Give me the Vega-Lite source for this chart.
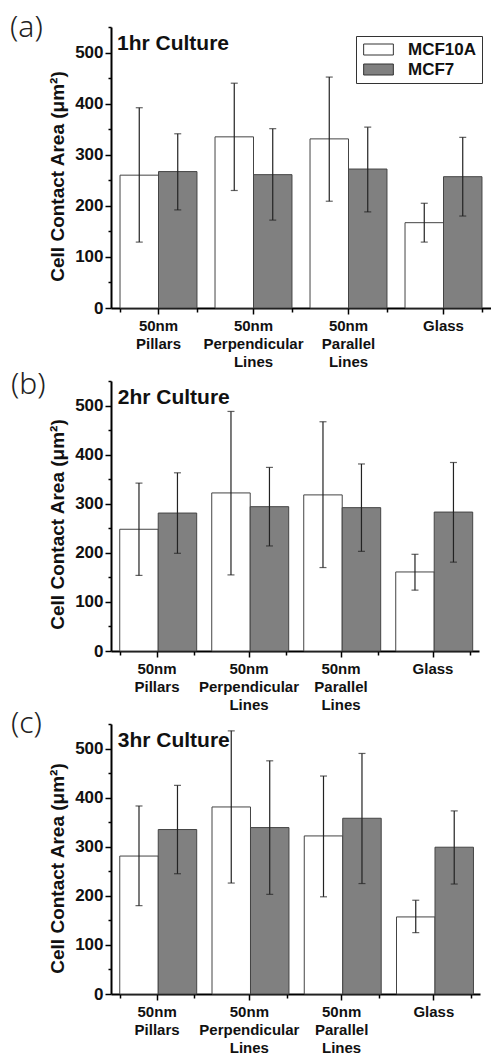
{
  "$schema": "https://vega.github.io/schema/vega-lite/v6.json",
  "background": "white",
  "padding": {"left": 10, "top": 13, "right": 0, "bottom": 0},
  "spacing": 73,
  "bounds": "flush",
  "config": {
    "font": "Liberation Sans",
    "view": {"stroke": null},
    "axis": {"zindex": 1, "grid": false, "domainColor": "#000", "tickColor": "#000", "labelColor": "#111", "titleColor": "#111"}
  },
  "resolve": {"scale": {"color": "independent"}, "legend": {"color": "independent"}},
  "datasets": {
    "a": [
      {"cat": "50nm Pillars", "type": "MCF10A", "mean": 260, "lo": 129, "hi": 392},
      {"cat": "50nm Pillars", "type": "MCF7", "mean": 267, "lo": 192, "hi": 341},
      {"cat": "50nm Perpendicular Lines", "type": "MCF10A", "mean": 335, "lo": 230, "hi": 440},
      {"cat": "50nm Perpendicular Lines", "type": "MCF7", "mean": 261, "lo": 172, "hi": 351},
      {"cat": "50nm Parallel Lines", "type": "MCF10A", "mean": 331, "lo": 209, "hi": 452},
      {"cat": "50nm Parallel Lines", "type": "MCF7", "mean": 272, "lo": 188, "hi": 354},
      {"cat": "Glass", "type": "MCF10A", "mean": 167, "lo": 129, "hi": 205},
      {"cat": "Glass", "type": "MCF7", "mean": 257, "lo": 180, "hi": 334}
    ],
    "b": [
      {"cat": "50nm Pillars", "type": "MCF10A", "mean": 248, "lo": 154, "hi": 342},
      {"cat": "50nm Pillars", "type": "MCF7", "mean": 281, "lo": 199, "hi": 363},
      {"cat": "50nm Perpendicular Lines", "type": "MCF10A", "mean": 322, "lo": 155, "hi": 488},
      {"cat": "50nm Perpendicular Lines", "type": "MCF7", "mean": 294, "lo": 214, "hi": 374},
      {"cat": "50nm Parallel Lines", "type": "MCF10A", "mean": 318, "lo": 170, "hi": 467},
      {"cat": "50nm Parallel Lines", "type": "MCF7", "mean": 292, "lo": 203, "hi": 381},
      {"cat": "Glass", "type": "MCF10A", "mean": 161, "lo": 124, "hi": 197},
      {"cat": "Glass", "type": "MCF7", "mean": 283, "lo": 181, "hi": 384}
    ],
    "c": [
      {"cat": "50nm Pillars", "type": "MCF10A", "mean": 281, "lo": 180, "hi": 383},
      {"cat": "50nm Pillars", "type": "MCF7", "mean": 335, "lo": 245, "hi": 425},
      {"cat": "50nm Perpendicular Lines", "type": "MCF10A", "mean": 381, "lo": 226, "hi": 536},
      {"cat": "50nm Perpendicular Lines", "type": "MCF7", "mean": 339, "lo": 203, "hi": 475},
      {"cat": "50nm Parallel Lines", "type": "MCF10A", "mean": 322, "lo": 198, "hi": 444},
      {"cat": "50nm Parallel Lines", "type": "MCF7", "mean": 358, "lo": 225, "hi": 490},
      {"cat": "Glass", "type": "MCF10A", "mean": 157, "lo": 125, "hi": 191},
      {"cat": "Glass", "type": "MCF7", "mean": 299, "lo": 224, "hi": 373}
    ],
    "ta": [{"cat": "50nm Pillars", "y": 550, "label": "1hr Culture"}],
    "tb": [{"cat": "50nm Pillars", "y": 550, "label": "2hr Culture"}],
    "tc": [{"cat": "50nm Pillars", "y": 550, "label": "3hr Culture"}]
  },
  "vconcat": [
    {
      "width": 380, "height": 281,
      "title": {"text": "(a)", "anchor": "start", "frame": "group", "orient": "top", "dx": -101, "offset": -17, "baseline": "top", "font": "Noto Sans", "fontSize": 30, "fontWeight": 300, "color": "#222"},
      "resolve": {"axis": {"x": "independent", "y": "independent"}},
      "layer": [
        {
          "data": {"name": "a"},
          "mark": {"type": "bar", "stroke": "#444", "strokeWidth": 1},
          "encoding": {
            "x": {"field": "cat", "type": "nominal", "scale": {"domain": ["50nm Pillars", "50nm Perpendicular Lines", "50nm Parallel Lines", "Glass"], "paddingInner": 0.19, "paddingOuter": 0.095},
              "axis": {"orient": "bottom", "title": null, "labelAngle": 0, "labelExpr": "datum.value == 'Glass' ? 'Glass' : split(datum.value, ' ')", "labelFontSize": 15, "labelFontWeight": "bold", "labelLineHeight": 18, "labelBaseline": "top", "labelPadding": 4, "labelOverlap": false, "labelLimit": 0, "domainWidth": 2, "tickWidth": 1.5, "tickSize": 6}},
            "xOffset": {"field": "type", "type": "nominal", "scale": {"domain": ["MCF10A", "MCF7"]}},
            "y": {"field": "mean", "type": "quantitative", "scale": {"domain": [0, 550], "nice": false},
              "axis": {"orient": "left", "title": "Cell Contact Area (μm²)", "values": [0, 100, 200, 300, 400, 500], "titleFontSize": 19, "titleFontWeight": "bold", "titlePadding": 7, "titleY": 149, "labelFontSize": 17, "labelFontWeight": "bold", "labelPadding": 2, "tickSize": 6, "tickWidth": 1.5, "domainWidth": 2}},
            "color": {"field": "type", "type": "nominal", "scale": {"domain": ["MCF10A", "MCF7"], "range": ["#ffffff", "#808080"]},
              "legend": {"orient": "top-right", "offset": 9, "title": null, "strokeColor": "#333", "fillColor": "white", "padding": 5, "symbolType": "M-2.7,-1H2.7V1H-2.7Z", "symbolSize": 121, "symbolOffset": 9, "symbolStrokeColor": "#333", "symbolStrokeWidth": 1, "symbolOpacity": 1, "labelOffset": 21, "labelFont": "Liberation Sans", "labelFontWeight": "bold", "labelFontSize": 17, "labelColor": "#111", "rowPadding": 2}}
          }
        },
        {
          "data": {"name": "a"},
          "mark": {"type": "rule", "color": "#222", "strokeWidth": 1.2},
          "encoding": {
            "x": {"field": "cat", "type": "nominal", "scale": {"domain": ["50nm Pillars", "50nm Perpendicular Lines", "50nm Parallel Lines", "Glass"]},
              "axis": {"orient": "bottom", "title": null, "labels": false, "domain": false, "tickBand": "extent", "tickSize": 4, "tickWidth": 1.5}},
            "xOffset": {"field": "type", "type": "nominal"},
            "y": {"field": "lo", "type": "quantitative", "scale": {"domain": [0, 550]},
              "axis": {"orient": "left", "title": null, "values": [50, 150, 250, 350, 450, 550], "labels": false, "domain": false, "tickSize": 3, "tickWidth": 1.5}},
            "y2": {"field": "hi"}
          }
        },
        {
          "data": {"name": "a"},
          "mark": {"type": "tick", "color": "#222", "size": 7, "thickness": 1.2},
          "encoding": {
            "x": {"field": "cat", "type": "nominal", "scale": {"domain": ["50nm Pillars", "50nm Perpendicular Lines", "50nm Parallel Lines", "Glass"]}, "axis": null},
            "xOffset": {"field": "type", "type": "nominal"},
            "y": {"field": "lo", "type": "quantitative", "axis": null}
          }
        },
        {
          "data": {"name": "a"},
          "mark": {"type": "tick", "color": "#222", "size": 7, "thickness": 1.2},
          "encoding": {
            "x": {"field": "cat", "type": "nominal", "scale": {"domain": ["50nm Pillars", "50nm Perpendicular Lines", "50nm Parallel Lines", "Glass"]}, "axis": null},
            "xOffset": {"field": "type", "type": "nominal"},
            "y": {"field": "hi", "type": "quantitative", "axis": null}
          }
        },
        {
          "data": {"name": "ta"},
          "mark": {"type": "text", "align": "left", "baseline": "top", "dx": -3, "dy": 6, "fontSize": 21, "fontWeight": "bold", "color": "#111"},
          "encoding": {
            "x": {"field": "cat", "type": "nominal", "bandPosition": 0, "scale": {"domain": ["50nm Pillars", "50nm Perpendicular Lines", "50nm Parallel Lines", "Glass"]}, "axis": null},
            "y": {"field": "y", "type": "quantitative", "axis": null},
            "text": {"field": "label"}
          }
        }
      ]
    },
    {
      "width": 368, "height": 270,
      "title": {"text": "(b)", "anchor": "start", "frame": "group", "orient": "top", "dx": -100, "offset": -20, "baseline": "top", "font": "Noto Sans", "fontSize": 30, "fontWeight": 300, "color": "#222"},
      "resolve": {"axis": {"x": "independent", "y": "independent"}},
      "layer": [
        {
          "data": {"name": "b"},
          "mark": {"type": "bar", "stroke": "#444", "strokeWidth": 1},
          "encoding": {
            "x": {"field": "cat", "type": "nominal", "scale": {"domain": ["50nm Pillars", "50nm Perpendicular Lines", "50nm Parallel Lines", "Glass"], "paddingInner": 0.19, "paddingOuter": 0.095},
              "axis": {"orient": "bottom", "title": null, "labelAngle": 0, "labelExpr": "datum.value == 'Glass' ? 'Glass' : split(datum.value, ' ')", "labelFontSize": 15, "labelFontWeight": "bold", "labelLineHeight": 18, "labelBaseline": "top", "labelPadding": 4, "labelOverlap": false, "labelLimit": 0, "domainWidth": 2, "tickWidth": 1.5, "tickSize": 6}},
            "xOffset": {"field": "type", "type": "nominal", "scale": {"domain": ["MCF10A", "MCF7"]}},
            "y": {"field": "mean", "type": "quantitative", "scale": {"domain": [0, 550], "nice": false},
              "axis": {"orient": "left", "title": "Cell Contact Area (μm²)", "values": [0, 100, 200, 300, 400, 500], "titleFontSize": 19, "titleFontWeight": "bold", "titlePadding": 7, "titleY": 143, "labelFontSize": 17, "labelFontWeight": "bold", "labelPadding": 2, "tickSize": 6, "tickWidth": 1.5, "domainWidth": 2}},
            "color": {"field": "type", "type": "nominal", "scale": {"domain": ["MCF10A", "MCF7"], "range": ["#ffffff", "#808080"]}, "legend": null}
          }
        },
        {
          "data": {"name": "b"},
          "mark": {"type": "rule", "color": "#222", "strokeWidth": 1.2},
          "encoding": {
            "x": {"field": "cat", "type": "nominal", "scale": {"domain": ["50nm Pillars", "50nm Perpendicular Lines", "50nm Parallel Lines", "Glass"]},
              "axis": {"orient": "bottom", "title": null, "labels": false, "domain": false, "tickBand": "extent", "tickSize": 4, "tickWidth": 1.5}},
            "xOffset": {"field": "type", "type": "nominal"},
            "y": {"field": "lo", "type": "quantitative", "scale": {"domain": [0, 550]},
              "axis": {"orient": "left", "title": null, "values": [50, 150, 250, 350, 450, 550], "labels": false, "domain": false, "tickSize": 3, "tickWidth": 1.5}},
            "y2": {"field": "hi"}
          }
        },
        {
          "data": {"name": "b"},
          "mark": {"type": "tick", "color": "#222", "size": 7, "thickness": 1.2},
          "encoding": {
            "x": {"field": "cat", "type": "nominal", "scale": {"domain": ["50nm Pillars", "50nm Perpendicular Lines", "50nm Parallel Lines", "Glass"]}, "axis": null},
            "xOffset": {"field": "type", "type": "nominal"},
            "y": {"field": "lo", "type": "quantitative", "axis": null}
          }
        },
        {
          "data": {"name": "b"},
          "mark": {"type": "tick", "color": "#222", "size": 7, "thickness": 1.2},
          "encoding": {
            "x": {"field": "cat", "type": "nominal", "scale": {"domain": ["50nm Pillars", "50nm Perpendicular Lines", "50nm Parallel Lines", "Glass"]}, "axis": null},
            "xOffset": {"field": "type", "type": "nominal"},
            "y": {"field": "hi", "type": "quantitative", "axis": null}
          }
        },
        {
          "data": {"name": "tb"},
          "mark": {"type": "text", "align": "left", "baseline": "top", "dx": -2, "dy": 6, "fontSize": 21, "fontWeight": "bold", "color": "#111"},
          "encoding": {
            "x": {"field": "cat", "type": "nominal", "bandPosition": 0, "scale": {"domain": ["50nm Pillars", "50nm Perpendicular Lines", "50nm Parallel Lines", "Glass"]}, "axis": null},
            "y": {"field": "y", "type": "quantitative", "axis": null},
            "text": {"field": "label"}
          }
        }
      ]
    },
    {
      "width": 369, "height": 270,
      "title": {"text": "(c)", "anchor": "start", "frame": "group", "orient": "top", "dx": -100, "offset": -16, "baseline": "top", "font": "Noto Sans", "fontSize": 30, "fontWeight": 300, "color": "#222"},
      "resolve": {"axis": {"x": "independent", "y": "independent"}},
      "layer": [
        {
          "data": {"name": "c"},
          "mark": {"type": "bar", "stroke": "#444", "strokeWidth": 1},
          "encoding": {
            "x": {"field": "cat", "type": "nominal", "scale": {"domain": ["50nm Pillars", "50nm Perpendicular Lines", "50nm Parallel Lines", "Glass"], "paddingInner": 0.19, "paddingOuter": 0.095},
              "axis": {"orient": "bottom", "title": null, "labelAngle": 0, "labelExpr": "datum.value == 'Glass' ? 'Glass' : split(datum.value, ' ')", "labelFontSize": 15, "labelFontWeight": "bold", "labelLineHeight": 18, "labelBaseline": "top", "labelPadding": 4, "labelOverlap": false, "labelLimit": 0, "domainWidth": 2, "tickWidth": 1.5, "tickSize": 6}},
            "xOffset": {"field": "type", "type": "nominal", "scale": {"domain": ["MCF10A", "MCF7"]}},
            "y": {"field": "mean", "type": "quantitative", "scale": {"domain": [0, 550], "nice": false},
              "axis": {"orient": "left", "title": "Cell Contact Area (μm²)", "values": [0, 100, 200, 300, 400, 500], "titleFontSize": 19, "titleFontWeight": "bold", "titlePadding": 7, "titleY": 144, "labelFontSize": 17, "labelFontWeight": "bold", "labelPadding": 2, "tickSize": 6, "tickWidth": 1.5, "domainWidth": 2}},
            "color": {"field": "type", "type": "nominal", "scale": {"domain": ["MCF10A", "MCF7"], "range": ["#ffffff", "#808080"]}, "legend": null}
          }
        },
        {
          "data": {"name": "c"},
          "mark": {"type": "rule", "color": "#222", "strokeWidth": 1.2},
          "encoding": {
            "x": {"field": "cat", "type": "nominal", "scale": {"domain": ["50nm Pillars", "50nm Perpendicular Lines", "50nm Parallel Lines", "Glass"]},
              "axis": {"orient": "bottom", "title": null, "labels": false, "domain": false, "tickBand": "extent", "tickSize": 4, "tickWidth": 1.5}},
            "xOffset": {"field": "type", "type": "nominal"},
            "y": {"field": "lo", "type": "quantitative", "scale": {"domain": [0, 550]},
              "axis": {"orient": "left", "title": null, "values": [50, 150, 250, 350, 450, 550], "labels": false, "domain": false, "tickSize": 3, "tickWidth": 1.5}},
            "y2": {"field": "hi"}
          }
        },
        {
          "data": {"name": "c"},
          "mark": {"type": "tick", "color": "#222", "size": 7, "thickness": 1.2},
          "encoding": {
            "x": {"field": "cat", "type": "nominal", "scale": {"domain": ["50nm Pillars", "50nm Perpendicular Lines", "50nm Parallel Lines", "Glass"]}, "axis": null},
            "xOffset": {"field": "type", "type": "nominal"},
            "y": {"field": "lo", "type": "quantitative", "axis": null}
          }
        },
        {
          "data": {"name": "c"},
          "mark": {"type": "tick", "color": "#222", "size": 7, "thickness": 1.2},
          "encoding": {
            "x": {"field": "cat", "type": "nominal", "scale": {"domain": ["50nm Pillars", "50nm Perpendicular Lines", "50nm Parallel Lines", "Glass"]}, "axis": null},
            "xOffset": {"field": "type", "type": "nominal"},
            "y": {"field": "hi", "type": "quantitative", "axis": null}
          }
        },
        {
          "data": {"name": "tc"},
          "mark": {"type": "text", "align": "left", "baseline": "top", "dx": -2, "dy": 6, "fontSize": 21, "fontWeight": "bold", "color": "#111"},
          "encoding": {
            "x": {"field": "cat", "type": "nominal", "bandPosition": 0, "scale": {"domain": ["50nm Pillars", "50nm Perpendicular Lines", "50nm Parallel Lines", "Glass"]}, "axis": null},
            "y": {"field": "y", "type": "quantitative", "axis": null},
            "text": {"field": "label"}
          }
        }
      ]
    }
  ]
}
